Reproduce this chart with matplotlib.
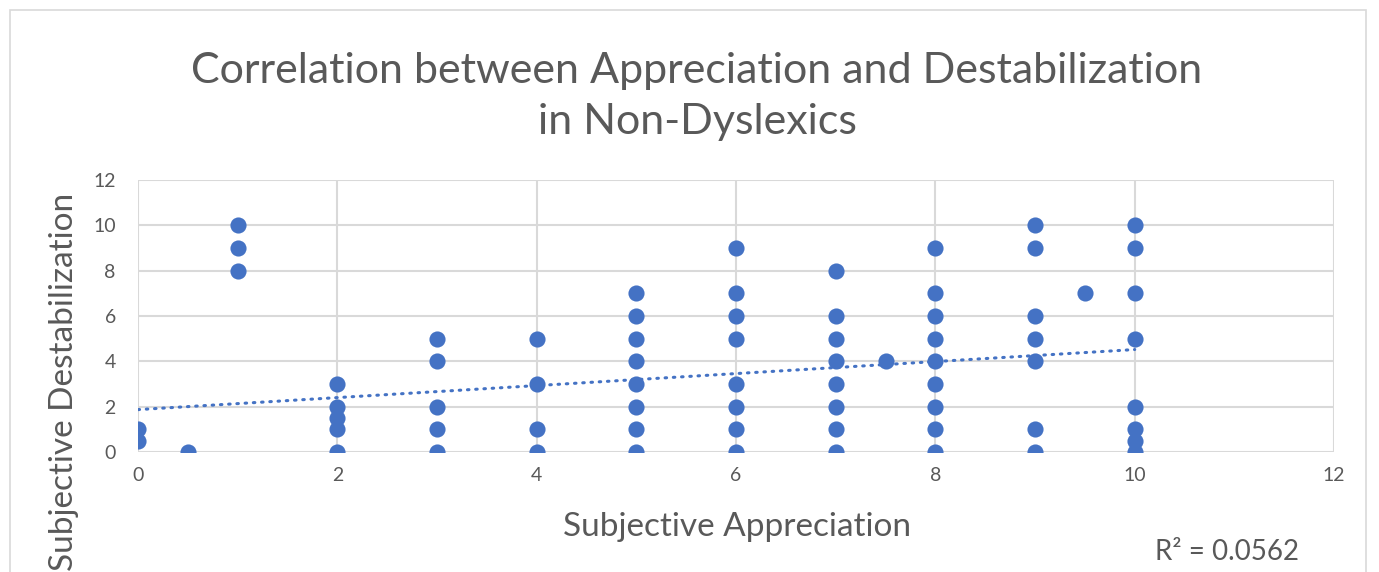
import numpy as np
import matplotlib
matplotlib.use("Agg")
import matplotlib.pyplot as plt
from matplotlib.patches import Rectangle

# Data: (appreciation, destabilization)
appreciation = [0, 0,
                0.5,
                1, 1, 1,
                2, 2, 2, 2, 2,
                3, 3, 3, 3, 3,
                4, 4, 4, 4,
                5, 5, 5, 5, 5, 5, 5, 5,
                6, 6, 6, 6, 6, 6, 6, 6,
                7, 7, 7, 7, 7, 7, 7, 7,
                7.5,
                8, 8, 8, 8, 8, 8, 8, 8, 8,
                9, 9, 9, 9, 9, 9, 9,
                9.5,
                10, 10, 10, 10, 10, 10, 10, 10]
destabilization = [1, 0.5,
                   0,
                   10, 9, 8,
                   3, 2, 1.5, 1, 0,
                   5, 4, 2, 1, 0,
                   5, 3, 1, 0,
                   7, 6, 5, 4, 3, 2, 1, 0,
                   9, 7, 6, 5, 3, 2, 1, 0,
                   8, 6, 5, 4, 3, 2, 1, 0,
                   4,
                   9, 7, 6, 5, 4, 3, 2, 1, 0,
                   10, 9, 6, 5, 4, 1, 0,
                   7,
                   10, 9, 7, 5, 2, 1, 0.5, 0]
# Linear trendline (endpoints at x=0 and x=10)
trend_x = [0, 10]
trend_y = [1.87, 4.52]
x_ticks = [0, 2, 4, 6, 8, 10, 12]
y_ticks = [0, 2, 4, 6, 8, 10, 12]
title = "Correlation between Appreciation and Destabilization\nin Non-Dyslexics"
r2_label = "R² = 0.0562"

plt.rcParams['font.family'] = ['Lato', 'DejaVu Sans']
grey = '#595959'
blue = '#4472C4'

fig = plt.figure(figsize=(13.79, 5.72), dpi=100)
ax = fig.add_axes([0.1001, 0.2098, 0.8673, 0.4755])

ax.scatter(appreciation, destabilization, s=135, color=blue, zorder=3, linewidths=0)
ax.plot(trend_x, trend_y, color=blue, lw=2.2, linestyle=(0, (0.5, 2.2)),
        dash_capstyle='round', zorder=2)

ax.set_xlim(0, 12)
ax.set_ylim(0, 12)
ax.set_xticks(x_ticks)
ax.set_yticks(y_ticks)
ax.grid(True, color='#D9D9D9', lw=1.5, zorder=0)
ax.set_axisbelow(True)
for s in ax.spines.values():
    s.set_visible(False)
ax.tick_params(length=0, labelsize=14, labelcolor=grey)
ax.tick_params(axis='x', pad=11)
ax.tick_params(axis='y', pad=16)

fig.text(0.5344, 0.0787, "Subjective Appreciation", ha='center', va='center',
         fontsize=24, color=grey)
fig.text(0.0464, 0.333, "Subjective Destabilization", ha='center', va='center',
         fontsize=24, color=grey, rotation=90)

fig.text(0.5055, 0.831, title, ha='center', va='center', fontsize=31,
         color=grey, linespacing=1.42)
fig.text(0.8375, 0.035, r2_label, ha='left', va='center', fontsize=20, color=grey)

fig.patches.append(Rectangle((0.0073, -0.1), 0.9833, 1.082, transform=fig.transFigure,
                             fill=False, edgecolor='#D9D9D9', lw=1.2))

fig.savefig("out.png", dpi=100)
